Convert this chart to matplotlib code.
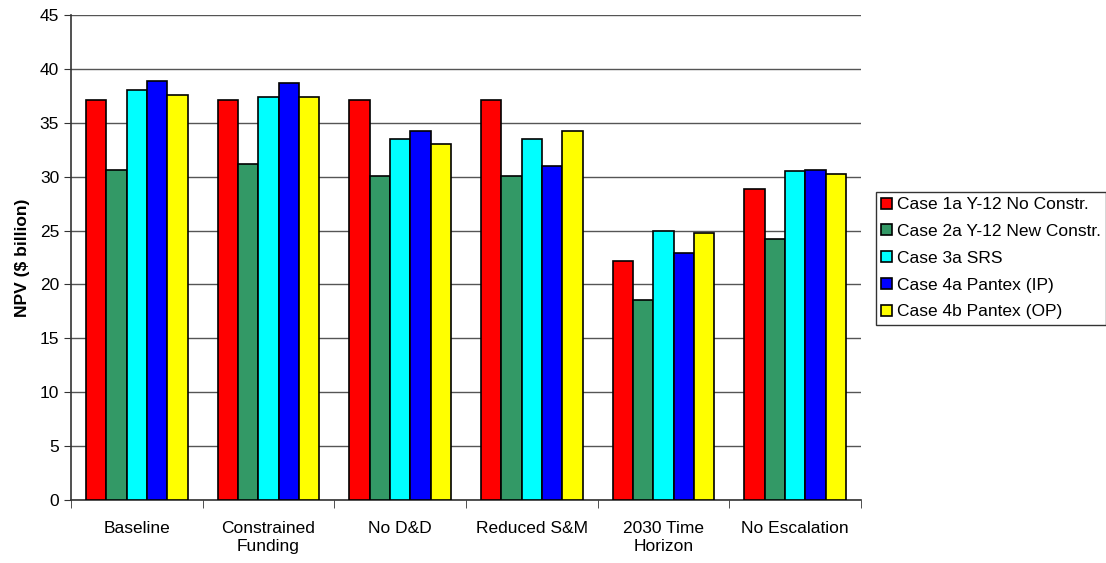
import numpy as np
import matplotlib.pyplot as plt

plt.rcParams['font.family'] = ['Liberation Sans', 'DejaVu Sans']

# --------------------------------------------------------------------------
# data

categories = ['Baseline', 'Constrained\nFunding', 'No D&D', 'Reduced S&M',
              '2030 Time\nHorizon', 'No Escalation']
series_names = ['Case 1a Y-12 No Constr.', 'Case 2a Y-12 New Constr.',
                'Case 3a SRS', 'Case 4a Pantex (IP)', 'Case 4b Pantex (OP)']
case1a = [37.1, 37.1, 37.1, 37.1, 22.2, 28.9]
case2a = [30.6, 31.2, 30.1, 30.1, 18.55, 24.2]
case3a = [38.05, 37.4, 33.45, 33.45, 24.95, 30.55]
case4a = [38.85, 38.7, 34.25, 30.95, 22.9, 30.6]
case4b = [37.6, 37.4, 33.0, 34.25, 24.8, 30.2]
colors = ['#FF0000', '#339966', '#00FFFF', '#0000FF', '#FFFF00']

# --------------------------------------------------------------------------
# plot

fig = plt.figure(figsize=(11.06, 5.63), dpi=100)
ax = fig.add_axes([0.0642, 0.1119, 0.7143, 0.8615])

x = np.arange(len(categories))
width = 0.154
all_series = [case1a, case2a, case3a, case4a, case4b]
for i, (vals, name, col) in enumerate(zip(all_series, series_names, colors)):
    ax.bar(x + (i - 2) * width, vals, width, color=col, edgecolor='black',
           linewidth=1.2, label=name, zorder=3)

ax.set_xlim(-0.5, len(categories) - 0.5)
ax.set_ylim(0, 45)
ax.set_yticks(np.arange(0, 46, 5))
ax.yaxis.grid(True, color='#555555', linewidth=1, zorder=0)

ax.set_xticks(x)
ax.set_xticklabels(categories, fontsize=12.5, linespacing=1.3)
ax.set_xticks(np.arange(-0.5, len(categories), 1), minor=True)
ax.tick_params(axis='x', which='major', length=0, pad=15)
ax.tick_params(axis='x', which='minor', length=6, direction='out', color='#333333')
ax.tick_params(axis='y', length=5, direction='out', labelsize=12.5, color='#333333')

for s in ['top', 'right']:
    ax.spines[s].set_visible(False)
for s in ['left', 'bottom']:
    ax.spines[s].set_color('#333333')
    ax.spines[s].set_linewidth(1.2)

ax.set_ylabel('NPV ($ billion)', fontsize=12.5, fontweight='bold', labelpad=7)

leg = fig.legend(loc='upper left', bbox_to_anchor=(0.792, 0.659), fontsize=12.5,
                 frameon=True, fancybox=False, edgecolor='black', borderaxespad=0,
                 handlelength=0.6, handleheight=0.6, handletextpad=0.3,
                 labelspacing=0.68, borderpad=0.3)
leg.get_frame().set_linewidth(1)

fig.savefig('out.png', dpi=100)
